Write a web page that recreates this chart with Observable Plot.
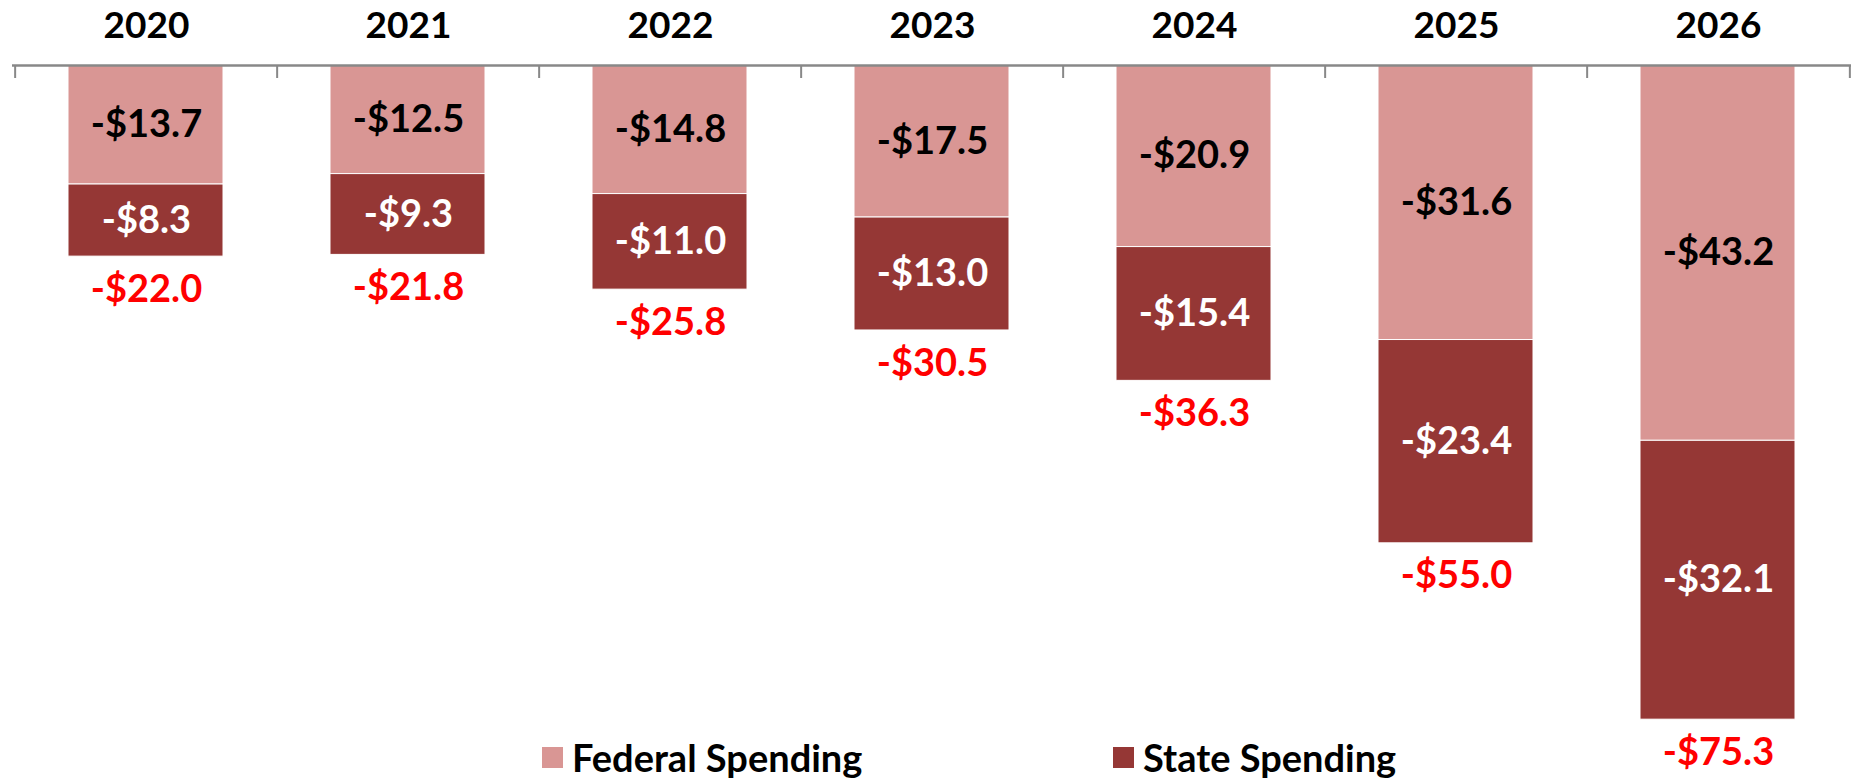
<!DOCTYPE html>
<html>
<head>
<meta charset="utf-8">
<script src="https://cdn.jsdelivr.net/npm/d3@7"></script>
<script src="https://cdn.jsdelivr.net/npm/@observablehq/plot@0.6"></script>
<style>
  html, body { margin: 0; padding: 0; background: #fff; }
  #wrap { position: relative; width: 1856px; height: 779px; font-family: Lato, "Open Sans", sans-serif; }
  #legend { position: absolute; left: 0; top: 737px; width: 1856px; height: 40px; font-weight: 700; font-size: 38px; color: #000; }
  .item { position: absolute; display: flex; align-items: center; gap: 9px; height: 40px; }
  .sw { width: 21px; height: 21px; display: inline-block; }
</style>
</head>
<body>
<div id="wrap"><div id="legend"></div></div>
<script>
const years = ["2020", "2021", "2022", "2023", "2024", "2025", "2026"];
const federal = [-13.7, -12.5, -14.8, -17.5, -20.9, -31.6, -43.2];
const state = [-8.3, -9.3, -11.0, -13.0, -15.4, -23.4, -32.1];
const totals = [-22.0, -21.8, -25.8, -30.5, -36.3, -55.0, -75.3];
const seriesNames = ["Federal Spending", "State Spending"];
const seriesColors = ["#D99694", "#953735"];
const labelColors = ["#000000", "#ffffff"];

const W = 1856, H = 779, mL = 12, mR = 5, mT = 65, mB = 19;
const step = (W - mL - mR) / years.length;
const fmt = v => "-$" + Math.abs(v).toFixed(1);

// stacked rows
const rows = [];
years.forEach((yr, i) => {
  const f = federal[i], s = state[i];
  rows.push({year: yr, series: 0, y1: 0, y2: f, v: f});
  rows.push({year: yr, series: 1, y1: f, y2: f + s, v: s});
});
const totalRows = years.map((yr, i) => ({year: yr, v: totals[i]}));

const chart = Plot.plot({
  width: W, height: H,
  marginLeft: mL, marginRight: mR, marginTop: mT, marginBottom: mB,
  style: {fontFamily: "Lato, 'Open Sans', sans-serif", overflow: "visible", background: "transparent"},
  x: {type: "band", domain: years, padding: 0, axis: null},
  y: {domain: [-80, 0], axis: null},
  marks: [
    Plot.barY(rows, {x: "year", y1: "y1", y2: "y2", fill: d => seriesColors[d.series], stroke: "white", strokeWidth: 1, insetLeft: 53, insetRight: 54}),
    Plot.text(rows, {x: "year", y: d => (d.y1 + d.y2) / 2, text: d => fmt(d.v), fill: d => labelColors[d.series], fontSize: 38, fontWeight: 700, lineAnchor: "middle"}),
    Plot.text(totalRows, {x: "year", y: "v", text: d => fmt(d.v), fill: "#FF0000", fontSize: 38, fontWeight: 700, lineAnchor: "middle", dy: 33}),
    Plot.ruleY([0], {stroke: "#888888", strokeWidth: 2.5}),
    Plot.ruleX(years, {x: d => d, y1: 0, y2: -1.5, dx: -step / 2, stroke: "#888888", strokeWidth: 2}),
    Plot.ruleX(years.slice(-1), {x: d => d, y1: 0, y2: -1.5, dx: step / 2, stroke: "#888888", strokeWidth: 2}),
    Plot.text(years, {x: d => d, y: 0, dy: -39, text: d => d, fill: "#000", fontSize: 37, fontWeight: 700, lineAnchor: "middle"})
  ]
});
const wrap = document.getElementById("wrap");
wrap.insertBefore(chart, wrap.firstChild);

const legend = document.getElementById("legend");
const legendLeft = [542, 1113];
seriesNames.forEach((name, i) => {
  const it = document.createElement("div");
  it.className = "item";
  it.style.left = legendLeft[i] + "px";
  it.innerHTML = `<span class="sw" style="background:${seriesColors[i]}"></span><span>${name}</span>`;
  legend.appendChild(it);
});
</script>
</body>
</html>
